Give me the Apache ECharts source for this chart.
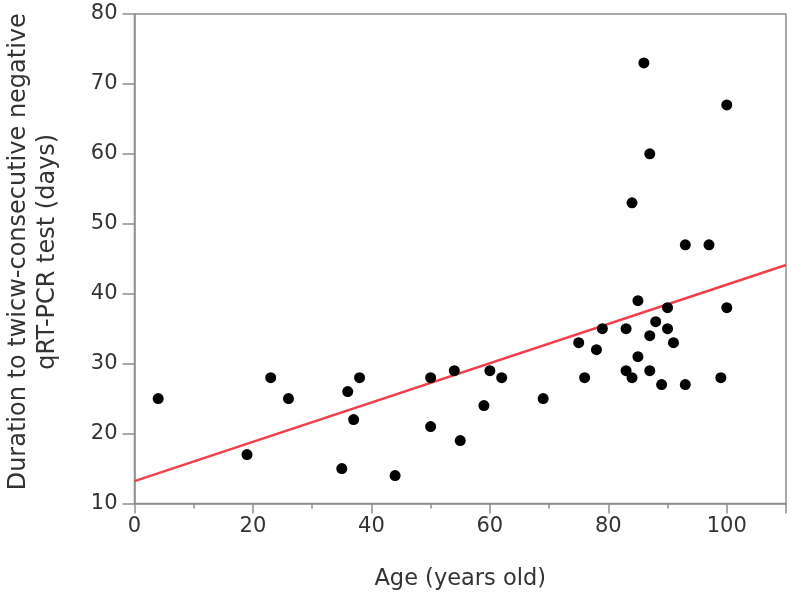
<!DOCTYPE html>
<html>
<head>
<meta charset="utf-8">
<script src="https://cdn.jsdelivr.net/npm/echarts@6/dist/echarts.min.js"></script>
<style>html,body{margin:0;padding:0;background:#fff}#c{width:791px;height:594px}</style>
</head>
<body>
<div id="c"></div>
<script>
const ages = [4,19,23,26,35,36,37,38,44,50,50,54,55,59,60,62,69,75,76,78,79,83,83,84,84,85,85,86,87,87,87,88,89,90,90,91,93,93,97,99,100,100];
const days = [25,17,28,25,15,26,22,28,14,28,21,29,19,24,29,28,25,33,28,32,35,35,29,28,53,39,31,73,34,29,60,36,27,35,38,33,47,27,47,28,67,38];
const fitX = [0,110];
const fitY = [13.2,44.1];
const xTicks = [0,20,40,60,80,100];
const yTicks = [10,20,30,40,50,60,70,80];
const xTitle = 'Age (years old)';
const yTitle = 'Duration to twicw-consecutive negative\nqRT-PCR test (days)';

const points = ages.map((a,i)=>[a,days[i]]);
const fitLine = fitX.map((x,i)=>[x,fitY[i]]);
const axisCol = '#8e8e8e';
const textCol = '#333';
const font = 'DejaVu Sans';

const chart = echarts.init(document.getElementById('c'), null, {renderer:'canvas'});
chart.setOption({
  animation:false,
  grid:{left:134.5,right:5,top:14,bottom:90.5,show:true,borderColor:axisCol,borderWidth:1.5,
    backgroundColor:'transparent',containLabel:false,outerBoundsMode:'none'},
  xAxis:{
    type:'value',min:0,max:110,interval:20,
    name:xTitle,nameLocation:'middle',nameGap:64,
    nameTextStyle:{fontFamily:font,fontSize:22.5,color:textCol},
    axisLine:{lineStyle:{color:axisCol,width:1.5}},
    axisTick:{show:true,length:10,lineStyle:{color:axisCol,width:1.5}},
    minorTick:{show:true,splitNumber:2,length:5,lineStyle:{color:axisCol,width:1.5}},
    splitLine:{show:false},
    axisLabel:{fontFamily:font,fontSize:21,color:textCol,margin:13,
      formatter:v=>xTicks.includes(v)?String(v):''}
  },
  yAxis:{
    type:'value',min:10,max:80,interval:10,
    name:yTitle,nameLocation:'middle',nameGap:72,
    nameTextStyle:{fontFamily:font,fontSize:24,color:textCol,lineHeight:29,align:'center',padding:[0,0,0,14]},
    axisLine:{lineStyle:{color:axisCol,width:1.5}},
    axisTick:{show:true,length:12,lineStyle:{color:axisCol,width:1.5}},
    splitLine:{show:false},
    axisLabel:{fontFamily:font,fontSize:21,color:textCol,margin:17,
      formatter:v=>yTicks.includes(v)?String(v):''}
  },
  series:[
    {type:'line',data:fitLine,symbol:'none',lineStyle:{color:'#f0404e',width:2.5},z:2},
    {type:'scatter',data:points,symbol:'circle',symbolSize:11,itemStyle:{color:'#000',opacity:1},z:3}
  ]
});
</script>
</body>
</html>
